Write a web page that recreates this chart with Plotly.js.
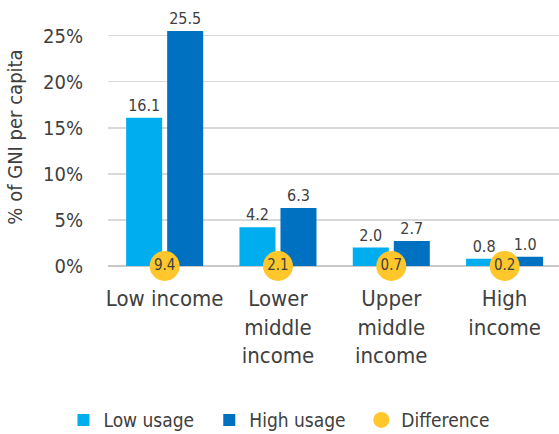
<!DOCTYPE html>
<html>
<head>
<meta charset="utf-8">
<script src="https://cdn.plot.ly/plotly-3.0.1.min.js"></script>
<style>
  html, body { margin: 0; padding: 0; background: #ffffff; }
  #chart { width: 559px; height: 434px; }
  /* narrow face for every label */
  #chart svg text { font-stretch: condensed; }
</style>
</head>
<body>
<div id="chart"></div>
<script>
// Income groups (x categories)
const categories = ["Low income", "Lower<br>middle<br>income", "Upper<br>middle<br>income", "High<br>income"];

// Cost as % of GNI per capita
const lowUsage  = [16.1, 4.2, 2.0, 0.8];
const highUsage = [25.5, 6.3, 2.7, 1.0];
const difference = [9.4, 2.1, 0.7, 0.2];

// Y axis ticks
const yTickVals = [0, 5, 10, 15, 20, 25];
const yTickText = ["0%", "5%", "10%", "15%", "20%", "25%"];

const FONT = "'DejaVu Sans', sans-serif";
const TEXT = "#404040";

const traces = [
  {
    type: "bar",
    name: "Low usage",
    x: categories,
    y: lowUsage,
    marker: { color: "#00AEEF" },
    text: lowUsage.map(v => v.toFixed(1)),
    textposition: "outside",
    textfont: { family: FONT, size: 16, color: TEXT },
    cliponaxis: false,
    hoverinfo: "skip"
  },
  {
    type: "bar",
    name: "High usage",
    x: categories,
    y: highUsage,
    marker: { color: "#0070C0" },
    text: highUsage.map(v => v.toFixed(1)),
    textposition: "outside",
    textfont: { family: FONT, size: 16, color: TEXT },
    cliponaxis: false,
    hoverinfo: "skip"
  },
  {
    type: "scatter",
    mode: "markers+text",
    name: "Difference",
    x: categories,
    y: difference.map(() => 0),
    marker: { color: "#FFC72C", size: 30 },
    text: difference.map(v => v.toFixed(1)),
    textposition: "middle center",
    textfont: { family: FONT, size: 15, color: TEXT },
    cliponaxis: false,
    hoverinfo: "skip"
  }
];

const layout = {
  width: 559,
  height: 434,
  margin: { l: 108, r: 0, t: 8, b: 168 },
  paper_bgcolor: "#ffffff",
  plot_bgcolor: "#ffffff",
  font: { family: FONT, color: TEXT, size: 20 },
  barmode: "group",
  bargap: 0.276,
  bargroupgap: 0.122,
  showlegend: true,
  legend: {
    orientation: "h",
    xref: "container",
    yref: "container",
    x: 0.508,
    xanchor: "center",
    y: 0.032,
    yanchor: "middle",
    font: { family: FONT, size: 19, color: TEXT },
    itemclick: false,
    itemdoubleclick: false
  },
  xaxis: {
    type: "category",
    range: [-0.5, 3.48],
    tickfont: { family: FONT, size: 22, color: TEXT },
    showgrid: false,
    showline: false,
    ticks: "",
    ticklabelstandoff: 17,
    fixedrange: true
  },
  yaxis: {
    range: [0, 28],
    tickvals: yTickVals,
    ticktext: yTickText,
    tickfont: { family: FONT, size: 20, color: TEXT },
    showgrid: true,
    gridcolor: "#d9d9d9",
    gridwidth: 1.5,
    zeroline: true,
    zerolinecolor: "#c8c8c8",
    zerolinewidth: 2,
    ticks: "",
    ticklabelstandoff: 24,
    title: {
      text: "% of GNI per capita",
      font: { family: FONT, size: 20, color: TEXT },
      standoff: 10
    },
    automargin: false,
    fixedrange: true
  }
};

Plotly.newPlot("chart", traces, layout, { displayModeBar: false, staticPlot: true });
</script>
</body>
</html>
